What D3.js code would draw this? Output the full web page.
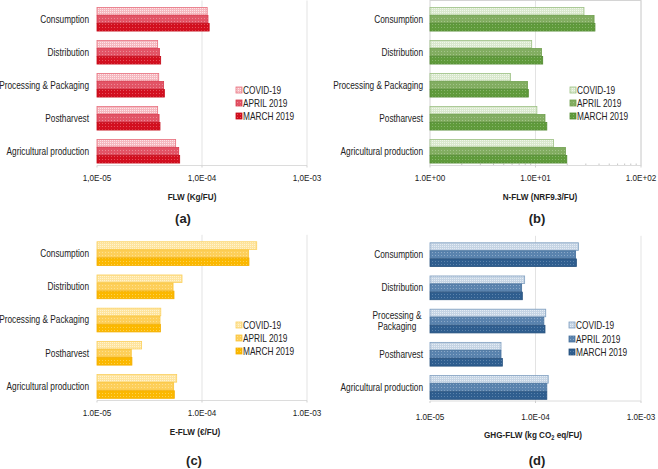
<!DOCTYPE html>
<html><head><meta charset="utf-8">
<script src="https://cdn.jsdelivr.net/npm/d3@7"></script>
<style>
html,body{margin:0;padding:0;background:#fff;}
text{font-family:"Liberation Sans",Arial,sans-serif;fill:#222;}
</style></head>
<body><svg id="chart" width="658" height="469"></svg>
<script>
// ---------- DATA ----------
const categories = ["Consumption","Distribution","Processing & Packaging","Postharvest","Agricultural production"];
const seriesNames = ["COVID-19","APRIL 2019","MARCH 2019"];

// (a) FLW (Kg/FU)
const flwCovid = [1.12e-4, 3.78e-5, 3.87e-5, 3.78e-5, 5.61e-5];
const flwApril = [1.14e-4, 3.93e-5, 4.31e-5, 3.90e-5, 6.00e-5];
const flwMarch = [1.17e-4, 4.04e-5, 4.38e-5, 3.98e-5, 6.13e-5];
// (b) N-FLW (NRF9.3/FU)
const nflwCovid = [28.8, 9.2, 5.8, 10.3, 14.8];
const nflwApril = [35.9, 11.4, 8.4, 12.3, 19.2];
const nflwMarch = [36.6, 11.7, 8.55, 12.8, 19.8];
// (c) E-FLW (€/FU)
const eflwCovid = [3.32e-4, 6.45e-5, 4.05e-5, 2.66e-5, 5.74e-5];
const eflwApril = [2.78e-4, 5.30e-5, 3.98e-5, 2.12e-5, 5.37e-5];
const eflwMarch = [2.80e-4, 5.41e-5, 4.02e-5, 2.15e-5, 5.45e-5];
// (d) GHG-FLW (kg CO2 eq/FU)
const ghgCovid = [2.55e-4, 7.89e-5, 1.25e-4, 4.71e-5, 1.32e-4];
const ghgApril = [2.40e-4, 7.39e-5, 1.20e-4, 4.71e-5, 1.28e-4];
const ghgMarch = [2.44e-4, 7.50e-5, 1.23e-4, 4.85e-5, 1.28e-4];

const ticksA = [1e-5, 1e-4, 1e-3];
const tickLabelsA = ["1,0E-05","1,0E-04","1,0E-03"];
const ticksB = [1, 10, 100];
const tickLabelsB = ["1.0E+00","1.0E+01","1.0E+02"];
const ticksC = [1e-5, 1e-4, 1e-3];
const tickLabelsC = ["1.0E-05","1.0E-04","1.0E-03"];
const ticksD = [1e-5, 1e-4, 1e-3];
const tickLabelsD = ["1.0E-05","1.0E-04","1.0E-03"];

const svg = d3.select("#chart");
const defs = svg.append("defs");
const SX = 0.83; // horizontal condensing of text to match reference

function makePattern(id, base, dot, step) {
  const p = defs.append("pattern").attr("id", id).attr("patternUnits","userSpaceOnUse")
    .attr("width", step).attr("height", step);
  p.append("rect").attr("width", step).attr("height", step).attr("fill", base);
  p.append("rect").attr("x",0).attr("y",0).attr("width",1).attr("height",1).attr("fill", dot);
  return "url(#"+id+")";
}

function addText(g, x, y, size, anchor, bold) {
  return g.append("text")
    .attr("transform", `translate(${x},${y}) scale(${SX},1)`)
    .attr("x", 0).attr("y", 0).attr("dy", "0.35em")
    .attr("text-anchor", anchor).attr("font-size", size)
    .attr("font-weight", bold ? "bold" : null);
}

const palettes = {
  red:   [{base:"#f5b8bf", dot:"#fde6e9", stroke:"#e8707e", step:2},
          {base:"#e25466", dot:"#ec8a96", stroke:"#d83a4c", step:3},
          {base:"#d20f1f", dot:"#e4505c", stroke:"#c40a18", step:3}],
  green: [{base:"#d9e8cd", dot:"#f1f7ec", stroke:"#9cc083", step:2},
          {base:"#82ad61", dot:"#a3c58a", stroke:"#6e9e4c", step:3},
          {base:"#5f9a3b", dot:"#86b56a", stroke:"#528a30", step:3}],
  yellow:[{base:"#fee49e", dot:"#fff3cf", stroke:"#fbcf5c", step:2},
          {base:"#fdcf5a", dot:"#fee08f", stroke:"#f9c43a", step:3},
          {base:"#fbb800", dot:"#fdd050", stroke:"#f3ae00", step:3}],
  blue:  [{base:"#c5d4e4", dot:"#e4ecf4", stroke:"#7f9fc0", step:2},
          {base:"#5a83ae", dot:"#8aa8c8", stroke:"#46709c", step:3},
          {base:"#2f5e8f", dot:"#5c83ab", stroke:"#254f7c", step:3}]
};

const panels = [
  {key:"a", data:[flwCovid, flwApril, flwMarch], pal:"red", ticks:ticksA, tickLabels:tickLabelsA,
   x0:97, x1:307, top:2.5, bottom:167.5, axisY:165.5, labelRight:89, legX:236, legY:[90,103,116],
   tickY:178, titleX:192, titleY:197, title:["FLW (Kg/FU)"], tag:"(a)", tagX:183, tagY:218, box:false, twoLine:false},
  {key:"b", data:[nflwCovid, nflwApril, nflwMarch], pal:"green", ticks:ticksB, tickLabels:tickLabelsB,
   x0:430, x1:641, top:2.5, bottom:167.5, axisY:165.5, labelRight:423, legX:570, legY:[90,103,116],
   tickY:178, titleX:540, titleY:197, title:["N-FLW (NRF9.3/FU)"], tag:"(b)", tagX:537, tagY:218, box:true, twoLine:false},
  {key:"c", data:[eflwCovid, eflwApril, eflwMarch], pal:"yellow", ticks:ticksC, tickLabels:tickLabelsC,
   x0:97, x1:307, top:236.8, bottom:402.8, axisY:400.5, labelRight:89, legX:236, legY:[325,338,351],
   tickY:413, titleX:195, titleY:432, title:["E-FLW (€/FU)"], tag:"(c)", tagX:194, tagY:460, box:false, twoLine:false},
  {key:"d", data:[ghgCovid, ghgApril, ghgMarch], pal:"blue", ticks:ticksD, tickLabels:tickLabelsD,
   x0:430, x1:641, top:237.8, bottom:403.8, axisY:401, labelRight:423, legX:569, legY:[325,339,352],
   tickY:417, titleX:533, titleY:435, title:["GHG-FLW (kg CO","2"," eq/FU)"], tag:"(d)", tagX:537, tagY:460, box:false, twoLine:true}
];

panels.forEach(P => {
  const g = svg.append("g");
  const x = d3.scaleLog().domain([P.ticks[0], P.ticks[2]]).range([P.x0, P.x1]);
  const y = d3.scaleBand().domain(categories).range([P.top, P.bottom]).paddingInner(0.27).paddingOuter(0.135);
  const ys = d3.scaleBand().domain(seriesNames).range([0, y.bandwidth()]);
  const fills = palettes[P.pal].map((c,i) => makePattern("p"+P.key+i, c.base, c.dot, c.step));

  // gridlines
  g.selectAll("line.grid").data(P.ticks.slice(1)).join("line")
    .attr("x1", d=>x(d)).attr("x2", d=>x(d)).attr("y1", P.top-2).attr("y2", P.axisY)
    .attr("stroke", "#e3e3e3").attr("stroke-width", 1);
  if (P.box) {
    g.append("rect").attr("x", P.x0).attr("y", P.top-2).attr("width", P.x1-P.x0).attr("height", P.axisY-P.top+2)
      .attr("fill","none").attr("stroke","#d4d4d4");
    const minors = [];
    for (let e=0;e<2;e++) for (let k=2;k<10;k++) minors.push(P.ticks[0]*Math.pow(10,e)*k);
    g.selectAll("line.minor").data(minors).join("line")
      .attr("x1", d=>x(d)).attr("x2", d=>x(d)).attr("y1", P.axisY-2).attr("y2", P.axisY)
      .attr("stroke","#c8c8c8");
  }
  g.append("line").attr("x1", P.x0).attr("x2", P.x1).attr("y1", P.axisY).attr("y2", P.axisY)
    .attr("stroke", "#dcdcdc");
  g.selectAll("line.tk").data(P.ticks).join("line")
    .attr("x1", d=>x(d)).attr("x2", d=>x(d)).attr("y1", P.axisY).attr("y2", P.axisY+2)
    .attr("stroke","#cfcfcf");

  // bars
  P.data.forEach((arr, si) => {
    const c = palettes[P.pal][si];
    g.selectAll("rect.s"+si).data(arr).join("rect")
      .attr("x", x(P.ticks[0]))
      .attr("y", (d,i) => y(categories[i]) + ys(seriesNames[si]) + 0.5)
      .attr("width", d => x(d) - x(P.ticks[0]))
      .attr("height", ys.bandwidth() - 0.5)
      .attr("fill", fills[si])
      .attr("stroke", c.stroke).attr("stroke-width", 0.8);
  });

  // category labels
  categories.forEach(cat => {
    const cy = y(cat) + y.bandwidth()/2;
    if (P.twoLine && cat === "Processing & Packaging") {
      addText(g, P.labelRight - 26, cy - 5.5, 10, "middle").text("Processing &");
      addText(g, P.labelRight - 26, cy + 5.5, 10, "middle").text("Packaging");
    } else {
      addText(g, P.labelRight, cy, 10, "end").text(cat);
    }
  });

  // tick labels
  P.ticks.forEach((t, i) => addText(g, x(t), P.tickY, 9.8, "middle").text(P.tickLabels[i]));

  // axis title
  const tt = addText(g, P.titleX, P.titleY, 9.8, "middle", true);
  if (P.title.length === 1) tt.text(P.title[0]);
  else {
    tt.append("tspan").text(P.title[0]);
    tt.append("tspan").attr("font-size", 6.8).attr("dy", "0.3em").text(P.title[1]);
    tt.append("tspan").attr("dy", "-0.3em").text(P.title[2]);
  }

  // panel tag
  g.append("text").attr("x", P.tagX).attr("y", P.tagY).attr("dy","0.35em")
    .attr("text-anchor","middle").attr("font-size", 13).attr("font-weight","bold").text(P.tag);

  // legend
  seriesNames.forEach((s, si) => {
    const c = palettes[P.pal][si];
    g.append("rect").attr("x", P.legX).attr("y", P.legY[si]-3).attr("width", 6).attr("height", 6)
      .attr("fill", fills[si]).attr("stroke", c.stroke).attr("stroke-width", 0.8);
    addText(g, P.legX + 7, P.legY[si], 10, "start").text(s);
  });
});
</script></body></html>
